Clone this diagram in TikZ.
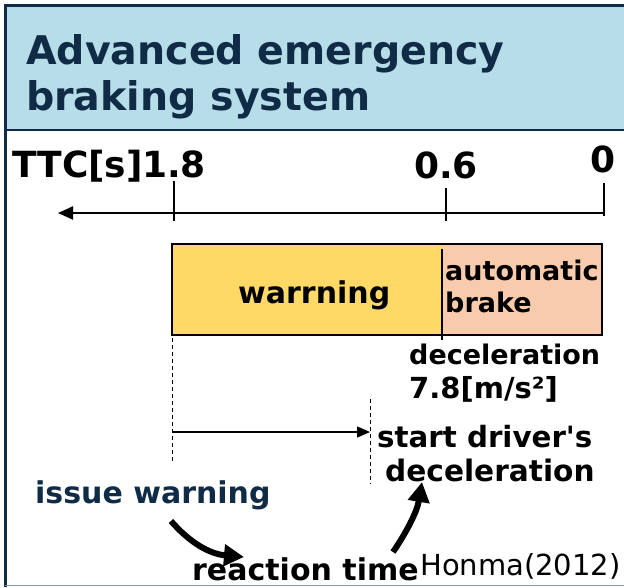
\documentclass[tikz,border=0pt]{standalone}
\usepackage{fontspec}
\setmainfont{DejaVu Sans}
\newfontfamily\dvs{DejaVu Sans}
\usetikzlibrary{arrows.meta}
\definecolor{navy}{HTML}{0F2B46}
\definecolor{hdr}{HTML}{B7DDE8}
\definecolor{warnY}{HTML}{FFD966}
\definecolor{brkP}{HTML}{F8CBAD}
\definecolor{btmgray}{HTML}{8497B0}
\newcommand{\fsz}[1]{\dvs\bfseries\fontsize{#1}{#1}\selectfont}
\begin{document}
\begin{tikzpicture}[x=1pt,y=-1pt,
  txt/.style={inner sep=0pt, anchor=base west, font=\fsz{28}},
  ttl/.style={inner sep=0pt, anchor=base west, text=navy, font=\fsz{39.5}},
  axl/.style={inner sep=0pt, anchor=base west, font=\fsz{36}},
  tick/.style={line width=2pt},
  dsh/.style={line width=0.8pt, dash pattern=on 4pt off 3pt},
  bigarrow/.style={line width=6pt, -{Triangle[length=20pt,width=21pt]}}
]
\useasboundingbox (0,0) rectangle (624,587);
\fill[white] (0,0) rectangle (624,587);
% header
\fill[hdr] (5,5) rectangle (624,130);
\draw[navy, line width=3pt] (624,5) -- (5,5) -- (5,587);
\draw[navy, line width=2.5pt] (5,130) -- (624,130);
\draw[btmgray, line width=1.5pt] (5,585.5) -- (624,585.5);
\node[ttl] (t1) at (26,64) {Advanced emergency};
\node[ttl] (t2) at (26,110) {braking system};
% axis
\node[axl] (ttc) at (12,177) {TTC[s]};
\node[axl] (v18) at (142,177) {1.8};
\node[axl] (v06) at (414,178) {0.6};
\node[axl] (v0) at (590,172) {0};
\coordinate (a0) at (604,213);
\coordinate (aend) at (58,213);
\draw[line width=2pt, -{Triangle[length=15pt,width=13pt]}] (a0) -- (aend);
\draw[tick] (174,181) -- (174,221);
\draw[tick] (446,188) -- (446,221);
\draw[tick] (604,183) -- (604,216);
% bar
\fill[warnY] (172,244) rectangle (443,335);
\fill[brkP] (443,244) rectangle (602,335);
\draw[line width=2.5pt] (172,244) rectangle (602,335);
\draw[line width=2.5pt] (442,249) -- (442,340);
\node[txt, font=\fsz{30}] (warn) at (238,303) {warrning};
\node[txt, font=\fsz{27}] (auto) at (445,280) {automatic};
\node[txt, font=\fsz{27}] (brake) at (445,312) {brake};
\node[txt, font=\fsz{27}] (dec1) at (409,364) {deceleration};
\node[txt, font=\fsz{29}] (dec2) at (409,398) {7.8[m/s²]};
% dashed lines and arrow
\coordinate (dl1) at (172,338);
\coordinate (dl2) at (172,462);
\coordinate (dr1) at (370,399);
\coordinate (dr2) at (370,484);
\draw[dsh] (dl1) -- (dl2);
\draw[dsh] (dr1) -- (dr2);
\coordinate (rs) at (172,432);
\coordinate (re) at (370,432);
\draw[line width=1.5pt, -{Triangle[length=13pt,width=11pt]}] (rs) -- (re);
\node[txt, font=\fsz{29.3}] (sd1) at (377,447) {start driver's};
\node[txt, font=\fsz{29.6}] (sd2) at (385,481) {deceleration};
\node[txt, font=\fsz{30}, text=navy] (iw) at (35,503) {issue warning};
\node[txt, font=\fsz{30}] (rt) at (192,580) {reaction time};
\node[inner sep=0pt, anchor=base west, font=\dvs\fontsize{29}{29}\selectfont] (hon) at (420,575) {Honma(2012)};
% curved arrows
\coordinate (c1s) at (171,521);
\coordinate (c1e) at (244,557);
\draw[bigarrow] (c1s) .. controls (190,543) and (210,554) .. (c1e);
\coordinate (c2s) at (393,552);
\coordinate (c2e) at (422,482);
\draw[bigarrow] (c2s) .. controls (406,533) and (417,512) .. (c2e);
\end{tikzpicture}
\end{document}
